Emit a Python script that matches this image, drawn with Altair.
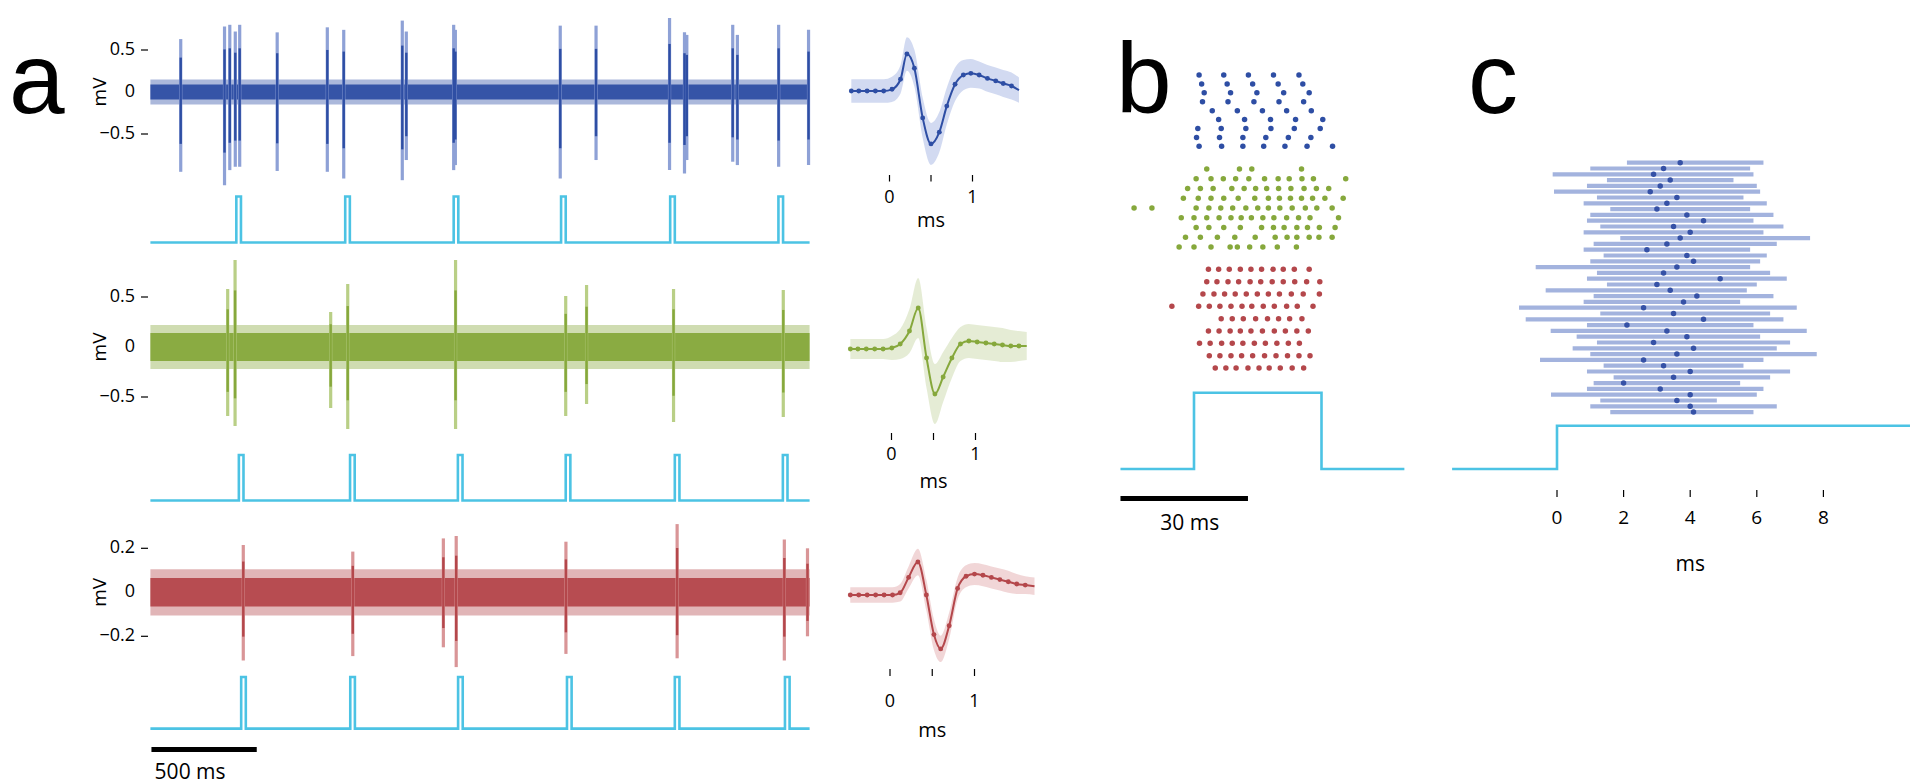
import altair as alt
import pandas as pd

OX, OY = 8, 8
FONT = "Open Sans"
LETTER_FONT = "Liberation Sans"
CYAN = "#4cc3e4"
BLUE, BLUE_L, BLUE_B = "#2e4ea4", "#8ea1d6", "#cdd6ef"
GREEN, GREEN_L, GREEN_B = "#86a83c", "#b9cf86", "#e2ead0"
RED, RED_L, RED_B = "#b4474b", "#d99597", "#f0d2d3"
BAR_C, DOT_C = "#a3b3de", "#3551a6"

# ---------------- panel a : traces ----------------
TRACE_T = [0, 3130]  # ms
blue_spike_t = [144, 352, 377, 403, 424, 602, 840, 918, 1196, 1215, 1440, 1448, 1946, 2116,
                2465, 2536, 2547, 2765, 2787, 2983, 3125]
blue_spike_top = [0.63, 0.78, 0.80, 0.72, 0.80, 0.71, 0.77, 0.74, 0.85, 0.72, 0.80, 0.74, 0.79,
                  0.79, 0.88, 0.71, 0.68, 0.80, 0.68, 0.80, 0.74]
blue_spike_bot = [-0.95, -1.11, -0.93, -0.89, -0.89, -0.94, -0.95, -1.03, -1.05, -0.81, -0.93,
                  -0.87, -1.03, -0.81, -0.93, -0.97, -0.81, -0.83, -0.87, -0.89, -0.87]
green_spike_t = [367, 402, 856, 937, 1449, 1972, 2071, 2484, 3005]
green_spike_top = [0.58, 0.87, 0.35, 0.63, 0.87, 0.51, 0.62, 0.58, 0.57]
green_spike_bot = [-0.69, -0.79, -0.61, -0.82, -0.82, -0.69, -0.57, -0.75, -0.70]
red_spike_t = [441, 961, 1391, 1452, 1973, 2501, 3010, 3120]
red_spike_top = [0.215, 0.185, 0.245, 0.256, 0.23, 0.31, 0.24, 0.20]
red_spike_bot = [-0.31, -0.29, -0.25, -0.34, -0.28, -0.30, -0.31, -0.20]
noise_core = {"blue": 0.09, "green": 0.14, "red": 0.065}
noise_tip = {"blue": 0.15, "green": 0.22, "red": 0.105}

stim1_on = [408, 925, 1440, 1950, 2468, 2982]
stim2_on = [420, 948, 1460, 1972, 2490, 3003]
stim3_on = [431, 949, 1461, 1978, 2490, 3013]
PULSE_MS = 22

# ---------------- panel a : waveforms ----------------
blue_wf_t = [-0.46, -0.37, -0.27, -0.17, -0.07, 0.03, 0.133, 0.21, 0.30, 0.40, 0.50, 0.60, 0.69,
             0.79, 0.89, 0.98, 1.08, 1.18, 1.28, 1.37, 1.47, 1.56]
blue_wf_v = [0, 0, 0, 0, 0.0, 0.02, 0.14, 0.44, 0.27, -0.32, -0.63, -0.49, -0.18, 0.08, 0.19,
             0.21, 0.19, 0.15, 0.12, 0.09, 0.06, 0.01]
blue_wf_sd = [0.14, 0.14, 0.14, 0.14, 0.14, 0.15, 0.17, 0.2, 0.22, 0.24, 0.25, 0.24, 0.22, 0.2,
              0.18, 0.17, 0.16, 0.16, 0.16, 0.16, 0.16, 0.15]
green_wf_t = [-0.49, -0.40, -0.30, -0.20, -0.10, 0.004, 0.104, 0.214, 0.318, 0.417, 0.517, 0.615,
              0.719, 0.821, 0.921, 1.02, 1.124, 1.223, 1.321, 1.42, 1.517, 1.61]
green_wf_v = [0, 0, 0, 0, 0, 0.01, 0.05, 0.18, 0.41, -0.09, -0.45, -0.28, -0.09, 0.05, 0.08, 0.07,
              0.06, 0.05, 0.04, 0.03, 0.03, 0.03]
green_wf_sd = [0.1, 0.1, 0.1, 0.1, 0.1, 0.12, 0.15, 0.22, 0.3, 0.3, 0.3, 0.25, 0.2, 0.17, 0.17,
               0.17, 0.17, 0.17, 0.17, 0.16, 0.15, 0.14]
red_wf_t = [-0.47, -0.37, -0.27, -0.17, -0.07, 0.03, 0.12, 0.22, 0.33, 0.43, 0.52, 0.60, 0.70,
            0.80, 0.90, 1.00, 1.10, 1.20, 1.30, 1.40, 1.50, 1.60, 1.71]
red_wf_v = [0, 0, 0, 0, 0, 0, 0.01, 0.08, 0.15, 0.0, -0.18, -0.245, -0.14, 0.03, 0.085, 0.095,
            0.09, 0.08, 0.07, 0.06, 0.05, 0.045, 0.04]
red_wf_sd = [0.035, 0.035, 0.035, 0.035, 0.035, 0.035, 0.04, 0.05, 0.06, 0.07, 0.07, 0.06, 0.06,
             0.05, 0.05, 0.05, 0.05, 0.05, 0.05, 0.05, 0.045, 0.04, 0.04]

# ---------------- panel b : raster (ms from stimulus onset) ----------------
b_blue = [
    [1.2, 7.0, 12.8, 18.7, 24.7],
    [1.8, 7.8, 13.8, 19.8, 25.6],
    [2.4, 8.6, 14.8, 21.1, 27.1],
    [2.0, 8.0, 14.1, 20.0, 25.8],
    [4.3, 10.2, 16.1, 21.8, 27.6],
    [5.8, 11.9, 18.0, 23.9, 30.3],
    [0.9, 6.4, 12.2, 18.1, 23.6, 29.7],
    [0.6, 6.0, 11.5, 16.9, 22.2, 27.5],
    [1.2, 6.5, 11.5, 16.4, 21.4, 26.6, 32.6],
]
b_green = [
    [3.0, 10.7, 13.6, 25.3],
    [0.5, 4.0, 6.9, 9.8, 12.9, 16.6, 19.8, 22.4, 25.4, 28.1, 35.7],
    [-1.5, 1.5, 4.5, 8.9, 11.8, 14.5, 17.1, 19.9, 22.8, 25.9, 28.8, 31.7],
    [-2.5, 1.0, 4.0, 7.0, 10.4, 14.3, 17.5, 20.1, 22.7, 25.3, 27.9, 30.8, 35.1],
    [-14.1, -9.9, 0.5, 3.5, 6.3, 9.1, 12.2, 15.0, 17.5, 20.2, 23.1, 26.2, 28.9, 32.5],
    [-3.0, 0.0, 3.0, 5.9, 8.7, 11.1, 13.5, 16.2, 18.8, 21.8, 24.6, 27.3, 34.0],
    [0.5, 3.5, 7.0, 10.9, 15.9, 18.7, 21.2, 24.2, 26.7, 29.5, 33.2],
    [-2.0, 1.5, 5.5, 9.6, 14.4, 19.1, 21.9, 24.2, 27.1, 29.4, 32.5],
    [-3.5, 0.0, 4.0, 8.5, 10.2, 13.1, 16.2, 19.6, 24.1],
]
b_red = [
    [3.4, 5.8, 8.3, 10.9, 13.4, 15.9, 18.6, 21.0, 23.6, 27.1],
    [3.0, 5.4, 8.0, 10.5, 13.2, 15.7, 18.4, 21.0, 23.7, 26.5, 29.6],
    [2.1, 4.7, 7.2, 9.7, 12.3, 14.9, 17.5, 20.1, 22.9, 25.7, 29.5],
    [-5.2, 1.1, 3.6, 6.1, 8.7, 11.3, 13.6, 16.3, 18.9, 21.8, 24.3, 28.0],
    [6.4, 9.0, 11.6, 14.5, 17.3, 19.9, 22.5, 25.4],
    [3.4, 5.9, 8.5, 10.9, 13.4, 16.1, 18.9, 21.5, 24.2, 26.9],
    [1.3, 3.8, 6.5, 9.0, 11.5, 14.2, 16.8, 19.5, 22.2, 24.8],
    [3.6, 6.1, 8.7, 11.2, 13.8, 16.6, 19.3, 22.0, 24.7, 27.3],
    [5.0, 7.5, 9.9, 12.7, 15.3, 17.7, 20.3, 23.1, 25.8],
]
B_STIM = [-17.3, 0, 30, 49.5]

# ---------------- panel c : latency bars (ms) ----------------
c_start = [2.1, 1.0, -0.13, 1.5, 0.9, -0.09, 1.2, 0.8, 1.6, 1.0, 0.9, 1.3, 0.8, 1.9, 1.1, 0.8,
           1.4, 1.0, -0.64, 1.2, 0.9, 1.5, -0.34, 1.1, 0.8, -1.14, 1.3, -0.94, 0.9, -0.19, 0.59,
           1.2, 0.47, 1.0, -0.51, 1.4, 0.9, 1.7, 1.1, 0.9, -0.18, 1.3, 1.0, 1.6]
c_end = [6.2, 5.8, 5.9, 5.3, 6.0, 6.1, 5.6, 6.3, 5.8, 6.5, 5.9, 6.8, 6.2, 7.6, 6.6, 5.8, 6.3, 6.1,
         5.8, 6.4, 6.9, 6.0, 5.7, 6.5, 5.5, 7.2, 6.4, 6.8, 5.9, 7.5, 6.1, 7.0, 6.6, 7.8, 6.2, 5.6,
         7.0, 6.4, 5.5, 6.2, 6.0, 4.8, 6.6, 5.9]
c_dot = [3.7, 3.2, 2.9, 3.4, 3.1, 2.8, 3.6, 3.3, 3.0, 3.9, 4.4, 3.5, 4.0, 3.7, 3.3, 2.7, 3.9, 4.1,
         3.6, 3.2, 4.9, 3.0, 3.4, 4.2, 3.8, 2.6, 3.5, 4.4, 2.1, 3.3, 3.9, 2.9, 4.1, 3.6, 2.6, 3.2,
         4.0, 3.5, 2.0, 3.1, 4.0, 3.6, 4.0, 4.1]
C_STIM = [-3.15, 0, 10.6]
c_ticks = [0, 2, 4, 6, 8]


# ---------------- helpers (layout) ----------------
def SX(d0, d1, r0, r1):
    return alt.Scale(domain=[d0, d1], range=[r0 - OX, r1 - OX], nice=False, zero=False)


def SY(d0, d1, r0, r1):
    return alt.Scale(domain=[d0, d1], range=[r0 - OY, r1 - OY], nice=False, zero=False)


def X(field, sc):
    return alt.X(field, type="quantitative", scale=sc, axis=None)


def Y(field, sc):
    return alt.Y(field, type="quantitative", scale=sc, axis=None)


TX = SX(0, 3130, 150.4, 809.6)
ROWY = [SY(-0.5, 0.5, 134, 50), SY(-0.5, 0.5, 397, 297), SY(-0.2, 0.2, 636.3, 548.3)]
STIMY = [SY(0, 1, 242.5, 196.5), SY(0, 1, 500.5, 455), SY(0, 1, 728.6, 677)]
WFX = [SX(0, 1, 889.5, 972.5), SX(0, 1, 891.5, 975.5), SX(0, 1, 890, 974.5)]
WFY = [SY(-0.5, 0.5, 133, 49), SY(-0.5, 0.5, 399, 299), SY(-0.2, 0.2, 639, 551)]
WF_TICK_Y = [(175, 181.5, 198, 221), (433, 440, 455, 482), (669, 676, 702, 731)]
BX = SX(0, 30, 1194, 1321.5)
BSTIMY = SY(0, 1, 469, 392.7)
BRY = [SY(1, 9, 75, 146.3), SY(1, 9, 169, 247), SY(1, 9, 269.3, 368)]
CX = SX(0, 8, 1557, 1823.4)
CSTIMY = SY(0, 1, 469, 425.7)
CRY = SY(0, 43, 162.7, 412.1)

layers = []
TXT = dict(font=FONT, color="black")


def text_at(label, x, y, size, align="left", baseline="alphabetic", angle=0):
    df = pd.DataFrame({"label": [label]})
    m = alt.Chart(df).mark_text(align=align, baseline=baseline, fontSize=size, angle=angle,
                                font=LETTER_FONT, color="black")
    return m.encode(x=alt.value(x - OX), y=alt.value(y - OY), text="label:N")


def stim_df(onsets, width, t0, t1):
    pts = [(t0, 0)]
    for on in onsets:
        pts += [(on, 0), (on, 1), (on + width, 1), (on + width, 0)]
    pts.append((t1, 0))
    return pd.DataFrame({"t": [p[0] for p in pts], "v": [p[1] for p in pts], "i": range(len(pts))})


rows = [
    ("blue", BLUE, BLUE_L, BLUE_B, blue_spike_t, blue_spike_top, blue_spike_bot,
     blue_wf_t, blue_wf_v, blue_wf_sd, stim1_on, ["0.5", "0", "\u22120.5"], [0.5, 0, -0.5]),
    ("green", GREEN, GREEN_L, GREEN_B, green_spike_t, green_spike_top, green_spike_bot,
     green_wf_t, green_wf_v, green_wf_sd, stim2_on, ["0.5", "0", "\u22120.5"], [0.5, 0, -0.5]),
    ("red", RED, RED_L, RED_B, red_spike_t, red_spike_top, red_spike_bot,
     red_wf_t, red_wf_v, red_wf_sd, stim3_on, ["0.2", "0", "\u22120.2"], [0.2, 0, -0.2]),
]

for k, (name, col, col_l, col_b, st, stop, sbot, wt, wv, wsd, son, tlab, tval) in enumerate(rows):
    ysc = ROWY[k]
    band = pd.DataFrame({"t0": [TRACE_T[0]], "t1": [TRACE_T[1]],
                         "tip": [noise_tip[name]], "core": [noise_core[name]]})
    layers.append(alt.Chart(band).transform_calculate(lo="-datum.tip").mark_rect(
        color=col, opacity=0.4).encode(x=X("t0", TX), x2="t1", y=Y("lo", ysc), y2="tip:Q"))
    layers.append(alt.Chart(band).transform_calculate(lo="-datum.core").mark_rect(
        color=col, opacity=0.95).encode(x=X("t0", TX), x2="t1", y=Y("lo", ysc), y2="core:Q"))
    sp = pd.DataFrame({"t": st, "top": stop, "bot": sbot})
    layers.append(alt.Chart(sp).mark_rule(color=col_l, strokeWidth=3.2).encode(
        x=X("t", TX), y=Y("top", ysc), y2="bot:Q"))
    layers.append(alt.Chart(sp).transform_calculate(ct="datum.top*0.65", cb="datum.bot*0.65")
                  .mark_rule(color=col, strokeWidth=2.4).encode(x=X("t", TX), y=Y("ct", ysc), y2="cb:Q"))
    # y ticks
    tk = pd.DataFrame({"v": tval, "label": tlab})
    layers.append(alt.Chart(tk).mark_text(align="right", baseline="middle", fontSize=18, **TXT)
                  .encode(x=alt.value(135 - OX), y=Y("v", ysc), text="label:N"))
    layers.append(alt.Chart(tk[tk.v != 0]).mark_rule(color="black", strokeWidth=1.2).encode(
        x=alt.value(141 - OX), x2=alt.value(148 - OX), y=Y("v", ysc)))
    mv = pd.DataFrame({"v": [0], "label": ["mV"]})
    layers.append(alt.Chart(mv).mark_text(angle=270, baseline="middle", align="center",
                                          fontSize=19, **TXT)
                  .encode(x=alt.value(100 - OX), y=Y("v", ysc), text="label:N"))
    # stimulus
    sd = stim_df(son, PULSE_MS, TRACE_T[0], TRACE_T[1])
    layers.append(alt.Chart(sd).mark_line(color=CYAN, strokeWidth=2.6, strokeJoin="miter")
                  .encode(x=X("t", TX), y=Y("v", STIMY[k]), order="i:Q"))
    # waveform
    wf = pd.DataFrame({"t": wt, "v": wv, "sd": wsd})
    layers.append(alt.Chart(wf).transform_calculate(lo="datum.v-datum.sd", hi="datum.v+datum.sd")
                  .mark_area(color=col_b, opacity=0.9, interpolate="monotone")
                  .encode(x=X("t", WFX[k]), y=Y("lo", WFY[k]), y2="hi:Q"))
    layers.append(alt.Chart(wf).mark_line(color=col, strokeWidth=2, interpolate="monotone")
                  .encode(x=X("t", WFX[k]), y=Y("v", WFY[k])))
    layers.append(alt.Chart(wf.iloc[:-1]).mark_circle(color=col, size=24, opacity=1)
                  .encode(x=X("t", WFX[k]), y=Y("v", WFY[k])))
    ty0, ty1, ly, my = WF_TICK_Y[k]
    wt_df = pd.DataFrame({"t": [0, 0.5, 1], "label": ["0", "", "1"]})
    layers.append(alt.Chart(wt_df).mark_rule(color="black", strokeWidth=1.2).encode(
        x=X("t", WFX[k]), y=alt.value(ty0 - OY), y2=alt.value(ty1 - OY)))
    layers.append(alt.Chart(wt_df).mark_text(baseline="middle", fontSize=18, **TXT).encode(
        x=X("t", WFX[k]), y=alt.value(ly - OY), text="label:N"))
    layers.append(alt.Chart(pd.DataFrame({"t": [0.5], "label": ["ms"]}))
                  .mark_text(baseline="middle", fontSize=20, **TXT)
                  .encode(x=X("t", WFX[k]), y=alt.value(my - OY), text="label:N"))

# scale bar a
sb = pd.DataFrame({"t0": [5], "t1": [505]})
layers.append(alt.Chart(sb).mark_rule(color="black", strokeWidth=5).encode(
    x=X("t0", TX), x2="t1:Q", y=alt.value(749.5 - OY)))
layers.append(alt.Chart(pd.DataFrame({"t": [20], "label": ["500 ms"]}))
              .mark_text(align="left", baseline="middle", fontSize=21, **TXT)
              .encode(x=X("t", TX), y=alt.value(773 - OY), text="label:N"))

# ---------------- panel b ----------------
for k, (trials, col) in enumerate([(b_blue, BLUE), (b_green, GREEN), (b_red, RED)]):
    df = pd.DataFrame([(i + 1, t) for i, ts in enumerate(trials) for t in ts], columns=["trial", "t"])
    layers.append(alt.Chart(df).mark_circle(color=col, size=30, opacity=1).encode(
        x=X("t", BX), y=Y("trial", BRY[k])))
bs = pd.DataFrame({"t": [B_STIM[0], B_STIM[1], B_STIM[1], B_STIM[2], B_STIM[2], B_STIM[3]],
                   "v": [0, 0, 1, 1, 0, 0], "i": range(6)})
layers.append(alt.Chart(bs).mark_line(color=CYAN, strokeWidth=2.6, strokeJoin="miter")
              .encode(x=X("t", BX), y=Y("v", BSTIMY), order="i:Q"))
bsb = pd.DataFrame({"t0": [-17.3], "t1": [12.7]})
layers.append(alt.Chart(bsb).mark_rule(color="black", strokeWidth=5).encode(
    x=X("t0", BX), x2="t1:Q", y=alt.value(498.4 - OY)))
layers.append(alt.Chart(pd.DataFrame({"t": [-1.0], "label": ["30 ms"]}))
              .mark_text(align="center", baseline="middle", fontSize=21, **TXT)
              .encode(x=X("t", BX), y=alt.value(524 - OY), text="label:N"))

# ---------------- panel c ----------------
cdf = pd.DataFrame({"row": range(len(c_start)), "s": c_start, "e": c_end, "d": c_dot})
layers.append(alt.Chart(cdf).mark_rule(color=BAR_C, strokeWidth=4.2).encode(
    x=X("s", CX), x2="e:Q", y=Y("row", CRY)))
layers.append(alt.Chart(cdf).mark_circle(color=DOT_C, size=30, opacity=1).encode(
    x=X("d", CX), y=Y("row", CRY)))
cs = pd.DataFrame({"t": [C_STIM[0], C_STIM[1], C_STIM[1], C_STIM[2]], "v": [0, 0, 1, 1], "i": range(4)})
layers.append(alt.Chart(cs).mark_line(color=CYAN, strokeWidth=2.6, strokeJoin="miter")
              .encode(x=X("t", CX), y=Y("v", CSTIMY), order="i:Q"))
ct = pd.DataFrame({"t": c_ticks, "label": [str(v) for v in c_ticks]})
layers.append(alt.Chart(ct).mark_rule(color="black", strokeWidth=1.2).encode(
    x=X("t", CX), y=alt.value(490 - OY), y2=alt.value(497 - OY)))
layers.append(alt.Chart(ct).mark_text(baseline="middle", fontSize=19, **TXT).encode(
    x=X("t", CX), y=alt.value(518 - OY), text="label:N"))
layers.append(alt.Chart(pd.DataFrame({"t": [4], "label": ["ms"]}))
              .mark_text(baseline="middle", fontSize=21, **TXT)
              .encode(x=X("t", CX), y=alt.value(565 - OY), text="label:N"))

# panel letters
layers.append(text_at("a", 9, 113, 100))
layers.append(text_at("b", 1116, 113, 100))
layers.append(text_at("c", 1468, 113, 100))

chart = alt.layer(*layers).resolve_scale(x="independent", y="independent").properties(
    width=1904, height=776, padding=0, background="white",
    autosize=alt.AutoSizeParams(type="none"),
).configure_view(stroke=None)

chart.save("out.html", embed_options={"renderer": "svg", "actions": False})
